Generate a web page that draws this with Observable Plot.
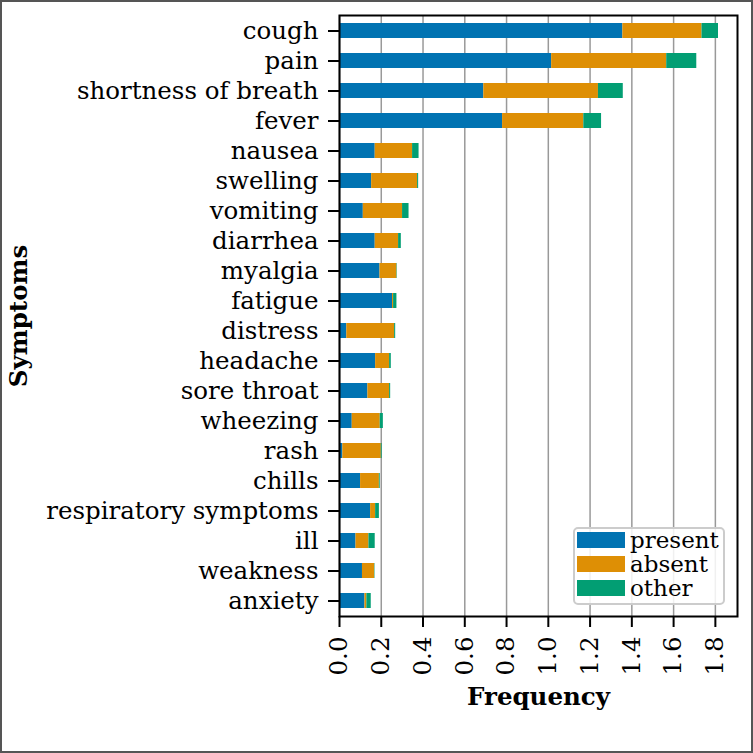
<!DOCTYPE html>
<html><head><meta charset="utf-8">
<script src="https://cdn.jsdelivr.net/npm/d3@7"></script>
<script src="https://cdn.jsdelivr.net/npm/@observablehq/plot@0.6"></script>
<style>
body{margin:0;background:#fff;}
#wrap{position:relative;width:753px;height:753px;overflow:hidden;background:#fff;}
#border{position:absolute;left:0;top:0;width:753px;height:753px;box-sizing:border-box;border:2px solid #555;pointer-events:none;}
#legend{position:absolute;left:573px;top:527px;width:152px;height:78px;box-sizing:border-box;border:2px solid #ccc;border-radius:5px;background:rgba(255,255,255,0.85);font-family:"DejaVu Serif";font-size:23px;color:#000;}
.row{position:absolute;left:2px;height:16px;display:flex;align-items:center;}
.sw{width:48px;height:16px;margin-right:5px;}
.lab{line-height:16px;white-space:nowrap;}
</style>
</head><body>
<div id="wrap"><div id="chart"></div><div id="legend"></div><div id="border"></div></div>
<script>
const symptoms = ["cough","pain","shortness of breath","fever","nausea","swelling","vomiting","diarrhea","myalgia","fatigue","distress","headache","sore throat","wheezing","rash","chills","respiratory symptoms","ill","weakness","anxiety"];
const present = [1.357,1.016,0.691,0.781,0.171,0.154,0.114,0.171,0.194,0.254,0.035,0.173,0.136,0.061,0.016,0.101,0.149,0.079,0.110,0.122];
const absent  = [0.379,0.551,0.549,0.389,0.179,0.220,0.188,0.112,0.081,0.005,0.229,0.067,0.104,0.134,0.184,0.090,0.024,0.062,0.058,0.009];
const other   = [0.079,0.144,0.119,0.085,0.031,0.005,0.031,0.013,0.002,0.016,0.005,0.008,0.005,0.015,0.004,0.004,0.018,0.030,0.002,0.021];
const statuses = ["present","absent","other"];
const colors = ["#0173b2","#de8f05","#029e73"];
const xTicks = [0,0.2,0.4,0.6,0.8,1.0,1.2,1.4,1.6,1.8];
const xLabel = "Frequency";
const yLabel = "Symptoms";

const series = {present, absent, other};
const data = symptoms.flatMap((s,i)=>statuses.map(st=>({symptom:s,status:st,value:series[st][i]})));
const font = "DejaVu Serif";

const chart = Plot.plot({
  width:753, height:753,
  marginLeft:339, marginRight:16, marginTop:15, marginBottom:137,
  style:{fontFamily:font, color:"black", background:"white"},
  x:{domain:[0,1.906]},
  y:{type:"band", domain:symptoms, paddingInner:0.5, paddingOuter:0.25},
  color:{domain:statuses, range:colors},
  marks:[
    Plot.gridX(xTicks,{stroke:"#999",strokeOpacity:1,strokeWidth:1.5}),
    Plot.barX(data,{x:"value",y:"symptom",fill:"status"}),
    Plot.frame({stroke:"black",strokeWidth:2}),
    Plot.axisY({tickSize:11,tickPadding:10,strokeWidth:2,fontSize:24.5,fontFamily:font,label:null}),
    Plot.axisX({ticks:xTicks,tickSize:11,strokeWidth:2,tickFormat:()=>"",label:null}),
    Plot.text(xTicks,{x:d=>d,text:d=>d.toFixed(1),frameAnchor:"bottom",rotate:-90,textAnchor:"end",lineAnchor:"middle",dy:20,fontSize:24.5,fontFamily:font}),
    Plot.text([xLabel],{text:d=>d,frameAnchor:"bottom",dy:88,fontSize:24.5,fontWeight:"bold",fontFamily:font}),
    Plot.text([yLabel],{text:d=>d,frameAnchor:"left",rotate:-90,textAnchor:"middle",dx:-320,fontSize:24.5,fontWeight:"bold",fontFamily:font})
  ]
});
document.getElementById("chart").appendChild(chart);

const leg = document.getElementById("legend");
statuses.forEach((s,i)=>{
  const r = document.createElement("div");
  r.className="row"; r.style.top=(3+24*i)+"px";
  r.innerHTML=`<div class="sw" style="background:${colors[i]}"></div><span class="lab">${s}</span>`;
  leg.appendChild(r);
});
</script>
</body></html>
